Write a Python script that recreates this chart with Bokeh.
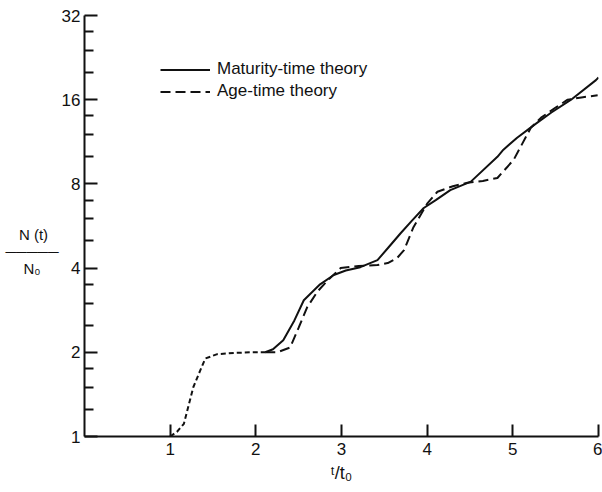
from bokeh.plotting import figure
from bokeh.models import Legend, LegendItem, FixedTicker, PrintfTickFormatter, Range1d
from bokeh.embed import file_html
from bokeh.resources import INLINE

# ---- data ----
common_x = [1.0, 1.08, 1.16, 1.27, 1.35, 1.41, 1.55, 1.75, 1.94, 2.11]
common_y = [1.0, 1.04, 1.11, 1.50, 1.72, 1.90, 1.97, 1.99, 2.0, 2.0]

mat_x = [2.11, 2.2, 2.32, 2.45, 2.56, 2.75, 2.91, 3.05, 3.22, 3.42, 3.55, 3.69, 3.82,
         3.96, 4.1, 4.27, 4.51, 4.82, 4.89, 5.05, 5.25, 5.45, 5.68, 5.97, 6.0]
mat_y = [2.0, 2.05, 2.21, 2.6, 3.07, 3.5, 3.78, 3.92, 4.03, 4.27, 4.75, 5.33, 5.9,
         6.56, 7.0, 7.6, 8.15, 10.0, 10.6, 11.7, 13.0, 14.4, 16.0, 18.8, 19.2]

age_x = [2.11, 2.25, 2.40, 2.50, 2.60, 2.72, 2.84, 2.99, 3.2, 3.42, 3.54, 3.65, 3.73,
         3.84, 4.0, 4.12, 4.3, 4.47, 4.65, 4.82, 5.01, 5.21, 5.33, 5.5, 5.64, 5.8, 5.99]
age_y = [2.0, 2.0, 2.08, 2.45, 2.9, 3.3, 3.62, 4.0, 4.07, 4.1, 4.17, 4.35, 4.64,
         5.6, 6.8, 7.5, 7.85, 8.07, 8.2, 8.4, 9.76, 12.7, 13.8, 15.0, 16.0, 16.3, 16.6]

x_ticks = [1, 2, 3, 4, 5, 6]
y_ticks = [1, 2, 4, 8, 16, 32]
y_minor = [m * k / 4 for m in y_ticks[:-1] for k in (5, 6, 7)]
legend_labels = ["Maturity-time theory", "Age-time theory"]
x_title = "\u1d57/t\u2080"
y_title = (" \n \n \nN (t)\u2002\u2009\n\u2500\u2500\u2500\u2500\u2500\n"
           "N\u2080\u2002\u2002\u2009")

FONT = "Liberation Sans"
INK = "#111111"

p = figure(width=602, height=492, x_range=Range1d(0, 6), y_range=Range1d(1, 32),
           y_axis_type="log", output_backend="svg", toolbar_location=None,
           min_border_left=84, min_border_right=4, min_border_top=15, min_border_bottom=56)
p.xgrid.visible = False
p.ygrid.visible = False
p.outline_line_color = None
p.background_fill_color = "white"

p.line(common_x, common_y, line_width=2, color=INK, line_dash="5 3")
r1 = p.line(mat_x, mat_y, line_width=2, color=INK)
r2 = p.line(age_x, age_y, line_width=2, color=INK, line_dash="10 5")

for ax in (p.xaxis[0], p.yaxis[0]):
    ax.axis_line_width = 2
    ax.axis_line_color = INK
    ax.major_tick_line_width = 2
    ax.major_tick_line_color = INK
    ax.minor_tick_line_width = 2
    ax.minor_tick_line_color = INK
    ax.major_tick_out = 0
    ax.minor_tick_out = 0
    ax.major_label_text_font = FONT
    ax.major_label_text_font_size = "17px"
    ax.major_label_text_color = INK
    ax.axis_label_text_font = FONT
    ax.axis_label_text_font_style = "normal"
    ax.axis_label_text_color = INK

p.xaxis.ticker = FixedTicker(ticks=x_ticks)
p.xaxis.major_tick_in = 12
p.xaxis.major_label_standoff = 6
p.xaxis.axis_label = x_title
p.xaxis.axis_label_standoff = 5
p.xaxis.axis_label_text_font_size = "18px"

p.yaxis.ticker = FixedTicker(ticks=y_ticks, minor_ticks=y_minor)
p.yaxis.formatter = PrintfTickFormatter(format="%d")
p.yaxis.major_tick_in = 13
p.yaxis.minor_tick_in = 9
p.yaxis.major_label_standoff = 4
p.yaxis.axis_label = y_title
p.yaxis.axis_label_orientation = "horizontal"
p.yaxis.axis_label_standoff = 0
p.yaxis.axis_label_text_font_size = "15px"
p.yaxis.axis_label_text_line_height = 1.0
p.yaxis.axis_label_text_align = "center"

legend = Legend(items=[LegendItem(label=legend_labels[0], renderers=[r1]),
                       LegendItem(label=legend_labels[1], renderers=[r2])],
                location=(76, 335), padding=0, margin=0, spacing=2,
                glyph_width=50, glyph_height=19, label_height=19, label_standoff=7,
                label_text_font=FONT, label_text_font_size="17px", label_text_color=INK,
                border_line_alpha=0, background_fill_alpha=0)
p.add_layout(legend, "center")

open("out.html", "w").write(file_html(p, INLINE))
